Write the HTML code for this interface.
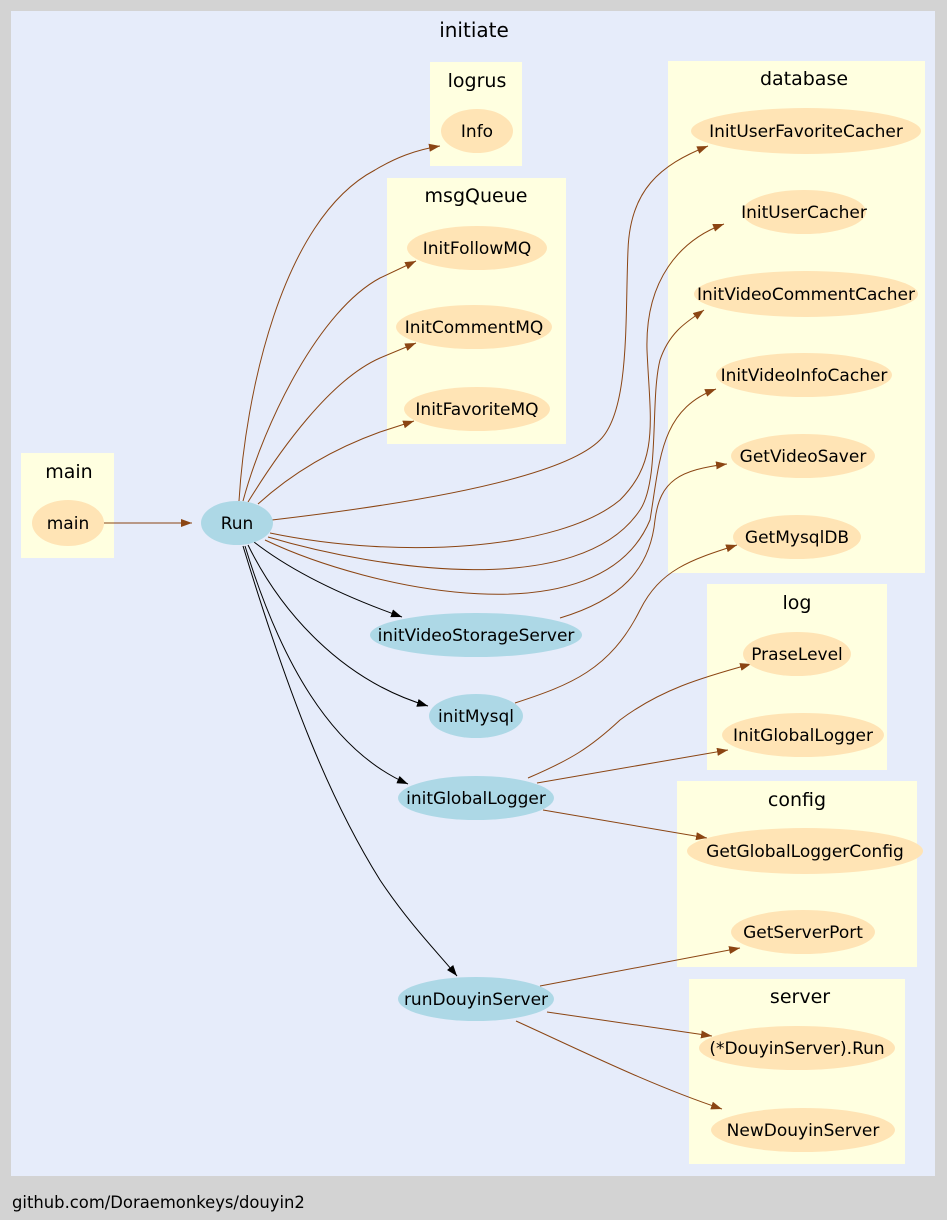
<!DOCTYPE html>
<html><head><meta charset="utf-8"><style>
html,body{margin:0;padding:0;background:#d3d3d3;}
svg{display:block;}
text{font-family:"DejaVu Sans","Liberation Sans",sans-serif;}
</style></head><body>
<svg width="947" height="1220" viewBox="0 0 947 1220" xmlns="http://www.w3.org/2000/svg">
<defs>
<marker id="b" markerWidth="12" markerHeight="10" refX="11" refY="4" orient="auto" markerUnits="userSpaceOnUse"><path d="M0,0 L11,4 L0,8 z" fill="#8b4513"/></marker>
<marker id="k" markerWidth="12" markerHeight="10" refX="11" refY="4" orient="auto" markerUnits="userSpaceOnUse"><path d="M0,0 L11,4 L0,8 z" fill="#000"/></marker>
</defs>
<rect x="0" y="0" width="947" height="1220" fill="#d3d3d3"/>
<rect x="11" y="11" width="924" height="1165" fill="#e6ecfa"/>
<text x="474" y="37" font-size="20" text-anchor="middle">initiate</text>
<text x="12" y="1208" font-size="16.4">github.com/Doraemonkeys/douyin2</text>

<g fill="#ffffe0">
<rect x="430" y="62" width="92" height="104"/>
<rect x="387" y="178" width="179" height="266"/>
<rect x="21" y="453" width="93" height="105"/>
<rect x="668" y="61" width="257" height="512"/>
<rect x="707" y="584" width="180" height="186"/>
<rect x="677" y="781" width="240" height="186"/>
<rect x="689" y="979" width="216" height="185"/>
</g>
<g font-size="19" text-anchor="middle">
<text x="477" y="87">logrus</text>
<text x="476" y="202">msgQueue</text>
<text x="69" y="478">main</text>
<text x="804" y="85">database</text>
<text x="797" y="609">log</text>
<text x="797" y="806">config</text>
<text x="800" y="1003">server</text>
</g>

<g fill="none" stroke="#8b4513" stroke-width="1">
<path d="M104,523 L192,523" marker-end="url(#b)"/>
<path d="M239,501 C245,400 280,220 375,170 C395,158 415,150 440,146" marker-end="url(#b)"/>
<path d="M243,501 C265,420 320,310 380,278 L416,261" marker-end="url(#b)"/>
<path d="M248,502 C280,450 330,380 380,358 L416,343" marker-end="url(#b)"/>
<path d="M258,504 C290,475 330,450 380,432 L414,421" marker-end="url(#b)"/>
<path d="M272,520 C400,505 560,480 600,440 C630,410 625,320 628,250 C630,190 660,165 708,146" marker-end="url(#b)"/>
<path d="M270,533 C400,560 560,550 620,500 C660,460 650,420 647,350 C645,280 680,240 724,224" marker-end="url(#b)"/>
<path d="M268,537 C380,570 580,600 640,510 C660,480 650,400 660,360 C670,330 690,320 704,310" marker-end="url(#b)"/>
<path d="M265,540 C370,590 600,640 650,520 C660,460 660,410 716,389" marker-end="url(#b)"/>
<path d="M560,618 C620,600 650,570 655,520 C660,480 680,470 727,464" marker-end="url(#b)"/>
<path d="M515,703 C570,685 610,670 640,610 C660,570 690,560 737,545" marker-end="url(#b)"/>
<path d="M528,778 C570,760 590,748 620,720 C660,690 700,678 751,664" marker-end="url(#b)"/>
<path d="M537,783 L728,750" marker-end="url(#b)"/>
<path d="M543,810 L707,838" marker-end="url(#b)"/>
<path d="M540,986 L740,948" marker-end="url(#b)"/>
<path d="M547,1012 L712,1036" marker-end="url(#b)"/>
<path d="M516,1021 C580,1050 650,1085 722,1109" marker-end="url(#b)"/>
</g>
<g fill="none" stroke="#000" stroke-width="1">
<path d="M254,542 C290,570 340,595 402,617" marker-end="url(#k)"/>
<path d="M248,545 C280,610 340,680 428,706" marker-end="url(#k)"/>
<path d="M245,546 C280,660 330,750 408,784" marker-end="url(#k)"/>
<path d="M243,546 C290,700 330,800 380,880 C410,925 440,955 457,976" marker-end="url(#k)"/>
</g>

<g fill="#ffe4b5">
<ellipse cx="68" cy="523" rx="36" ry="23"/>
<ellipse cx="477" cy="131" rx="36" ry="22"/>
<ellipse cx="477" cy="248" rx="70" ry="22"/>
<ellipse cx="474" cy="327" rx="78" ry="22"/>
<ellipse cx="477" cy="409" rx="73" ry="22"/>
<ellipse cx="806" cy="131" rx="115" ry="23"/>
<ellipse cx="804" cy="212" rx="62" ry="22"/>
<ellipse cx="806" cy="294" rx="112" ry="23"/>
<ellipse cx="804" cy="375" rx="88" ry="22"/>
<ellipse cx="803" cy="456" rx="72" ry="22"/>
<ellipse cx="797" cy="537" rx="64" ry="22"/>
<ellipse cx="797" cy="654" rx="54" ry="22"/>
<ellipse cx="803" cy="735" rx="81" ry="22"/>
<ellipse cx="805" cy="851" rx="118" ry="23"/>
<ellipse cx="803" cy="932" rx="72" ry="22"/>
<ellipse cx="797" cy="1048" rx="98" ry="22"/>
<ellipse cx="803" cy="1130" rx="92" ry="22"/>
</g>
<g fill="#add8e6">
<ellipse cx="237" cy="523" rx="36" ry="22"/>
<ellipse cx="476" cy="635" rx="106" ry="22"/>
<ellipse cx="476" cy="716" rx="47" ry="22"/>
<ellipse cx="476" cy="798" rx="78" ry="22"/>
<ellipse cx="476" cy="999" rx="78" ry="22"/>
</g>
<g font-size="17" text-anchor="middle">
<text x="68" y="529">main</text>
<text x="237" y="529">Run</text>
<text x="477" y="137">Info</text>
<text x="477" y="254">InitFollowMQ</text>
<text x="474" y="333">InitCommentMQ</text>
<text x="477" y="415">InitFavoriteMQ</text>
<text x="806" y="137">InitUserFavoriteCacher</text>
<text x="804" y="218">InitUserCacher</text>
<text x="806" y="300">InitVideoCommentCacher</text>
<text x="804" y="381">InitVideoInfoCacher</text>
<text x="803" y="462">GetVideoSaver</text>
<text x="797" y="543">GetMysqlDB</text>
<text x="476" y="641">initVideoStorageServer</text>
<text x="476" y="722">initMysql</text>
<text x="476" y="804">initGlobalLogger</text>
<text x="476" y="1005">runDouyinServer</text>
<text x="797" y="660">PraseLevel</text>
<text x="803" y="741">InitGlobalLogger</text>
<text x="805" y="857">GetGlobalLoggerConfig</text>
<text x="803" y="938">GetServerPort</text>
<text x="797" y="1054">(*DouyinServer).Run</text>
<text x="803" y="1136">NewDouyinServer</text>
</g>
</svg>
</body></html>
